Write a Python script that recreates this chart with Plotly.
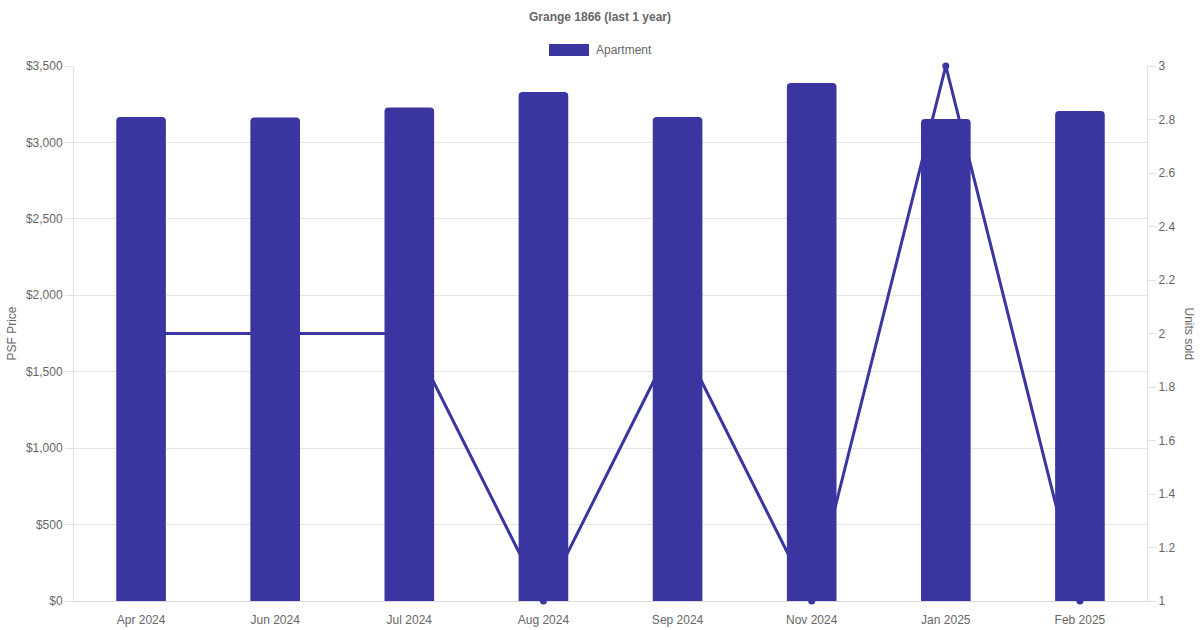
import plotly.graph_objects as go

months = ["Apr 2024", "Jun 2024", "Jul 2024", "Aug 2024", "Sep 2024", "Nov 2024", "Jan 2025", "Feb 2025"]
psf_price = [3166, 3163, 3228, 3330, 3166, 3389, 3153, 3206]
units_sold = [2, 2, 2, 1, 2, 1, 3, 1]

color = "#3a35a0"
gray = "#666666"
font = "Liberation Sans, Arial, sans-serif"

fig = go.Figure()
fig.add_trace(go.Scatter(
    x=months, y=units_sold, yaxis="y", mode="lines+markers",
    line=dict(color=color, width=3), marker=dict(size=7, color=color),
    showlegend=False, cliponaxis=False, name="Units sold"))
fig.add_trace(go.Bar(
    x=months, y=psf_price, yaxis="y2", name="Apartment", showlegend=False,
    marker=dict(color=color, line=dict(width=0)), width=0.37))

fig.update_layout(
    width=1200, height=630,
    margin=dict(l=74, r=53, t=66, b=29, autoexpand=False),
    paper_bgcolor="white", plot_bgcolor="white",
    font=dict(family=font, color=gray, size=12),
    barcornerradius=4,
    title=dict(text="<b>Grange 1866 (last 1 year)</b>", x=0.5, xanchor="center",
               y=1 - 17/630, yanchor="middle", font=dict(size=12, color=gray)),
    xaxis=dict(type="category", showgrid=False, showline=True, linecolor="#d9d9d9",
               ticks="outside", ticklen=8, tickcolor="rgba(0,0,0,0)",
               automargin=False, tickfont=dict(size=12, color=gray), layer="below traces"),
    yaxis=dict(side="right", range=[1, 3], dtick=0.2, tick0=1, showgrid=False,
               showline=True, linecolor="#e0e0e0", ticks="outside", ticklen=8, tickcolor="#e0e0e0",
               tickfont=dict(size=12, color=gray), zeroline=False, automargin=False),
    yaxis2=dict(side="left", overlaying="y", range=[0, 3500], dtick=500,
                tickprefix="$", tickformat=",d", showgrid=True, gridcolor="#e5e5e5",
                showline=True, linecolor="#e0e0e0", ticks="outside", ticklen=8, tickcolor="#e0e0e0",
                tickfont=dict(size=12, color=gray), zeroline=False, automargin=False),
    shapes=[dict(type="rect", xref="paper", yref="paper",
                 x0=(549 - 74) / 1073, x1=(589 - 74) / 1073,
                 y0=1 + (601 - 56 - 535) / 535, y1=1 + (601 - 44 - 535) / 535,
                 fillcolor=color, line=dict(width=0))],
    annotations=[
        dict(text="Apartment", xref="paper", yref="paper",
             x=(594 - 74) / 1073, y=1 + 16 / 535, xanchor="left", yanchor="middle",
             showarrow=False, font=dict(size=12, color=gray)),
        dict(text="Units sold", textangle=90, xref="paper", yref="paper",
             x=1 + 42 / 1073, y=0.5, xanchor="center", yanchor="middle",
             showarrow=False, font=dict(size=12, color=gray)),
        dict(text="PSF Price", textangle=-90, xref="paper", yref="paper",
             x=-63 / 1073, y=0.5, xanchor="center", yanchor="middle",
             showarrow=False, font=dict(size=12, color=gray)),
    ],
)

fig.write_html("out.html", config={"displayModeBar": False},
               post_script="document.body.style.margin='0';document.body.style.overflow='hidden';")
